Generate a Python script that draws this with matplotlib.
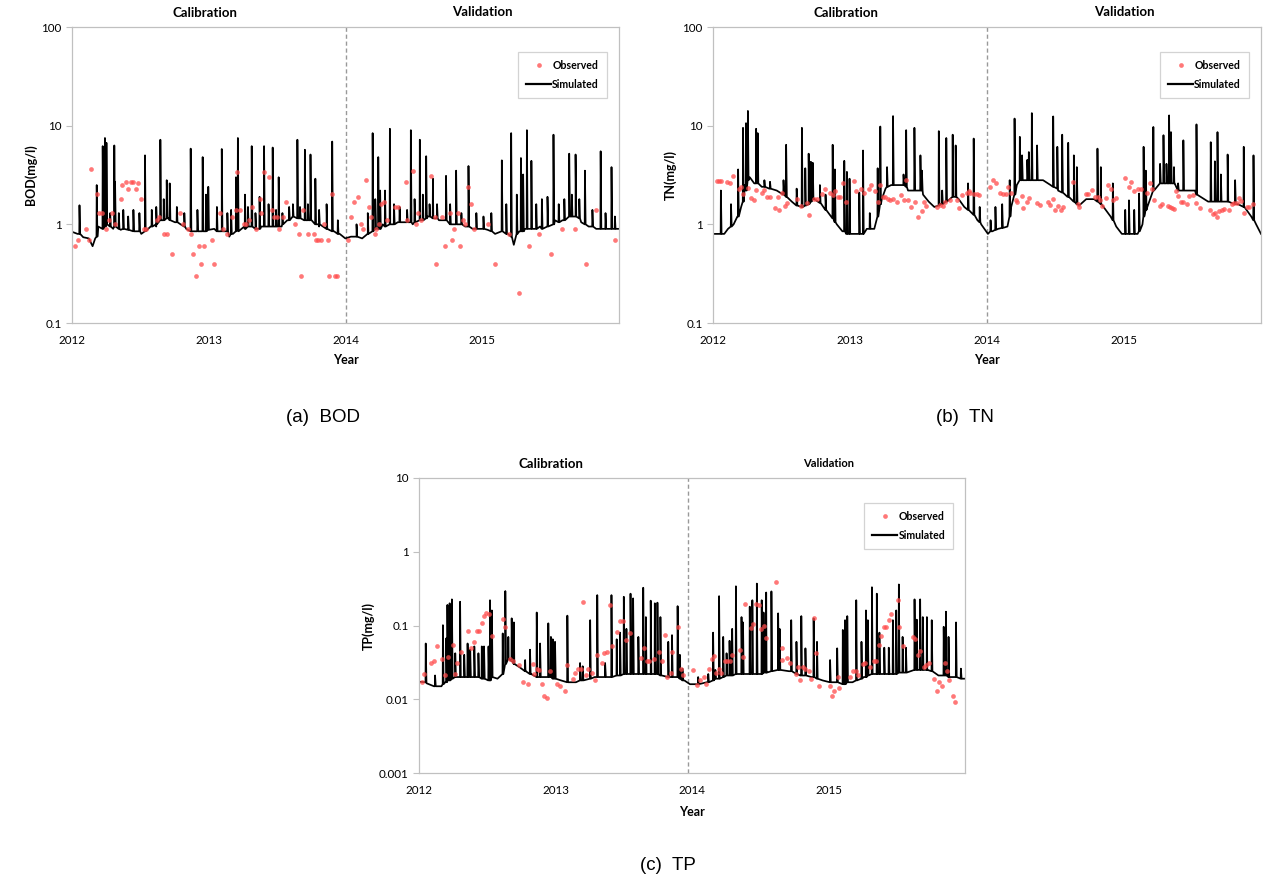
import numpy as np
import pandas as pd
import matplotlib
matplotlib.use("Agg")
import matplotlib.pyplot as plt
import matplotlib.ticker as mticker
import matplotlib.transforms as mtrans
from matplotlib.lines import Line2D

plt.rcParams['font.family'] = ['Lato', 'DejaVu Sans']

START = pd.Timestamp('2012-01-01')

# ---------------- BOD (days since 2012-01-01, mg/l) ----------------
bod_sim_base = [(0, 0.84), (15, 0.8), (30, 0.74), (45, 0.72), (55, 0.6), (62, 0.72), (70, 0.95),
                (90, 0.95), (110, 0.9), (130, 0.88), (150, 0.9), (170, 0.85), (185, 0.8), (195, 0.9),
                (210, 0.95), (225, 0.95), (240, 1.1), (260, 1.15), (275, 1.05), (290, 1.0), (305, 0.9),
                (320, 0.85), (340, 0.85), (360, 0.88), (380, 0.9), (400, 0.9), (420, 0.75), (430, 0.8),
                (445, 0.85), (460, 0.95), (475, 0.95), (490, 0.9), (505, 0.95), (520, 0.95), (540, 0.95),
                (560, 0.95), (575, 1.1), (590, 1.2), (605, 1.15), (620, 1.1), (640, 1.1), (660, 0.95),
                (680, 0.9), (700, 0.85), (715, 0.8), (730, 0.72), (745, 0.75), (760, 0.75), (775, 0.72),
                (790, 0.8), (810, 0.95), (830, 1.0), (850, 1.0), (870, 1.05), (890, 1.05), (910, 1.0),
                (930, 1.1), (950, 1.2), (965, 1.15), (980, 1.1), (995, 1.1), (1010, 1.0), (1030, 1.0),
                (1050, 0.95), (1070, 0.9), (1090, 0.9), (1110, 0.88), (1130, 0.8), (1150, 0.85),
                (1165, 0.8), (1180, 0.62), (1195, 0.85), (1210, 0.9), (1230, 0.9), (1250, 0.95),
                (1270, 1.0), (1290, 1.1), (1310, 1.1), (1330, 1.2), (1345, 1.2), (1360, 1.05),
                (1380, 0.95), (1400, 0.9), (1420, 0.9), (1440, 0.9), (1460, 0.9)]
# spikes: (day, peak, foot)
bod_sim_spikes = [(20, 1.56, 0.8), (66, 2.5, 0.75), (82, 6.2, 0.9), (88, 7.5, 0.95), (92, 6.7, 1.0),
                  (102, 1.3, 0.95), (113, 6.3, 0.95), (115, 2.7, 0.95), (125, 1.3, 0.9), (137, 1.4, 0.9),
                  (150, 1.2, 0.88), (164, 1.4, 0.85), (180, 1.3, 0.85), (195, 5.0, 0.85), (213, 1.4, 0.95),
                  (225, 1.5, 1.0), (236, 7.2, 1.1), (245, 1.8, 1.1), (253, 2.8, 1.15), (261, 2.6, 1.1),
                  (280, 1.5, 1.05), (300, 1.3, 0.95), (317, 5.85, 0.85), (335, 1.4, 0.85), (349, 4.8, 0.85),
                  (358, 2.0, 0.85), (364, 2.4, 0.88), (387, 1.5, 0.85), (400, 5.8, 0.85), (415, 1.3, 0.85),
                  (425, 1.4, 0.8), (438, 3.0, 0.85), (443, 7.5, 0.9), (462, 2.0, 0.9), (470, 1.5, 0.95),
                  (480, 6.2, 0.95), (490, 1.3, 0.9), (501, 1.9, 0.9), (513, 6.2, 0.95), (525, 1.6, 0.95),
                  (536, 6.0, 0.95), (545, 1.4, 0.95), (552, 3.0, 0.95), (562, 1.3, 1.0), (580, 1.5, 1.1),
                  (590, 1.6, 1.2), (602, 7.2, 1.15), (609, 1.5, 1.15), (622, 5.7, 1.1), (630, 1.6, 1.1),
                  (637, 5.1, 1.1), (650, 2.9, 1.0), (660, 1.4, 1.0), (680, 1.6, 0.9), (695, 6.9, 0.85),
                  (710, 1.1, 0.8), (760, 1.0, 0.75), (790, 1.3, 0.8), (803, 8.4, 0.85), (810, 1.8, 0.9),
                  (818, 4.8, 0.9), (823, 2.2, 0.9), (836, 2.2, 0.95), (849, 9.3, 1.0), (860, 1.6, 1.0),
                  (875, 1.5, 1.05), (895, 1.4, 1.05), (905, 9.0, 1.05), (915, 1.8, 1.05), (929, 7.2, 1.1),
                  (937, 2.0, 1.1), (946, 4.9, 1.15), (955, 1.6, 1.2), (964, 2.9, 1.15), (975, 1.6, 1.15),
                  (999, 3.1, 1.1), (1010, 1.6, 1.0), (1026, 3.5, 1.0), (1040, 1.3, 1.0), (1059, 3.9, 0.95),
                  (1080, 1.3, 0.9), (1099, 1.2, 0.9), (1120, 1.3, 0.85), (1148, 4.45, 0.85),
                  (1160, 1.6, 0.8), (1173, 8.4, 0.75), (1188, 2.0, 0.8), (1199, 4.7, 0.85),
                  (1205, 3.2, 0.85), (1215, 9.0, 0.9), (1227, 4.4, 0.9), (1240, 1.6, 0.9), (1255, 1.8, 0.9),
                  (1270, 1.9, 0.95), (1286, 8.1, 1.0), (1300, 1.6, 1.05), (1315, 1.8, 1.1),
                  (1328, 5.2, 1.2), (1335, 2.0, 1.2), (1345, 5.1, 1.2), (1355, 1.8, 1.15),
                  (1370, 3.5, 1.0), (1390, 1.4, 0.95), (1412, 5.5, 0.9), (1425, 1.3, 0.9),
                  (1441, 3.8, 0.9), (1450, 1.2, 0.9)]
bod_obs = [(9, 0.6), (17, 0.7), (37, 0.9), (46, 0.7), (50, 3.6), (66, 2.05), (72, 1.3), (79, 1.3),
           (92, 0.9), (99, 1.1), (108, 1.3), (115, 1.0), (130, 1.8), (134, 2.5), (143, 2.7), (150, 2.3),
           (157, 2.7), (164, 2.7), (170, 2.3), (177, 2.6), (184, 1.8), (192, 0.9), (198, 0.9),
           (228, 1.1), (233, 1.2), (246, 0.8), (253, 0.8), (268, 0.5), (289, 1.3), (297, 1.0),
           (311, 0.9), (317, 0.8), (324, 0.5), (331, 0.3), (339, 0.6), (344, 0.4), (353, 0.6),
           (373, 0.7), (380, 0.4), (394, 1.3), (402, 0.9), (415, 0.8), (428, 1.2), (437, 1.4),
           (441, 3.4), (450, 1.4), (459, 1.0), (466, 1.0), (473, 1.1), (480, 1.5), (491, 0.9),
           (501, 1.8), (505, 1.3), (513, 3.4), (527, 3.0), (533, 1.4), (540, 1.2), (547, 1.2),
           (554, 0.9), (563, 1.2), (571, 1.7), (596, 1.0), (605, 0.8), (611, 0.3), (618, 1.4),
           (631, 0.8), (647, 0.8), (652, 0.7), (658, 0.7), (664, 0.7), (674, 1.0), (683, 0.7),
           (687, 0.3), (694, 2.05), (702, 0.3), (708, 0.3), (738, 0.7), (745, 1.2), (753, 1.7),
           (765, 1.9), (772, 1.0), (778, 0.9), (785, 2.8), (793, 1.5), (799, 1.2), (808, 0.8),
           (813, 0.9), (821, 1.0), (825, 1.6), (834, 1.7), (842, 1.1), (863, 1.5), (870, 1.5),
           (891, 2.7), (896, 1.1), (912, 3.5), (919, 1.0), (924, 1.3), (932, 1.1), (959, 3.1),
           (970, 1.2), (972, 0.4), (987, 1.2), (995, 0.6), (1010, 1.3), (1016, 0.7), (1021, 0.9),
           (1032, 1.3), (1036, 0.6), (1045, 1.1), (1050, 1.0), (1059, 2.4), (1066, 1.6), (1075, 0.9),
           (1112, 1.0), (1129, 0.4), (1168, 0.8), (1193, 0.2), (1221, 0.6), (1248, 0.8), (1280, 0.5),
           (1310, 0.9), (1343, 0.9), (1373, 0.4), (1400, 1.4), (1449, 0.7)]

# ---------------- TN ----------------
tn_sim_base = [(0, 0.8), (18, 0.8), (30, 0.8), (40, 0.9), (55, 1.0), (65, 1.2), (75, 1.5), (85, 2.5),
               (98, 3.0), (110, 2.6), (130, 2.4), (150, 2.3), (170, 2.2), (190, 2.0), (210, 1.7),
               (225, 1.55), (240, 1.5), (255, 1.6), (270, 1.8), (285, 1.65), (300, 1.4), (315, 1.2),
               (330, 1.0), (345, 0.85), (355, 0.8), (400, 0.8), (410, 0.9), (430, 0.9), (440, 1.2),
               (450, 1.8), (460, 2.3), (475, 2.5), (500, 2.5), (520, 2.2), (540, 2.2), (560, 2.0),
               (575, 1.7), (590, 1.5), (605, 1.6), (620, 1.7), (640, 1.9), (655, 1.8), (670, 1.5),
               (690, 1.3), (705, 1.1), (715, 1.0), (733, 0.8), (745, 0.85), (760, 0.9), (785, 0.95),
               (795, 1.5), (810, 2.5), (820, 2.8), (880, 2.8), (900, 2.5), (920, 2.2), (945, 1.9),
               (962, 1.7), (976, 1.55), (995, 1.8), (1016, 1.8), (1035, 1.6), (1060, 1.2), (1075, 0.95),
               (1090, 0.8), (1132, 0.8), (1145, 1.0), (1158, 1.5), (1175, 2.2), (1195, 2.6), (1230, 2.6),
               (1240, 2.2), (1285, 2.2), (1300, 1.9), (1320, 1.7), (1372, 1.7), (1400, 1.6), (1416, 1.5),
               (1435, 1.2), (1448, 1.0), (1461, 0.8)]
tn_sim_spikes = [(21, 2.2, 0.8), (48, 1.6, 0.95), (67, 3.6, 1.2), (80, 9.5, 1.7), (88, 10.6, 2.2),
                 (93, 14.1, 2.8), (115, 9.3, 2.6), (119, 8.4, 2.6), (137, 2.8, 2.4), (152, 2.7, 2.3),
                 (188, 2.8, 2.0), (195, 6.4, 1.9), (223, 2.3, 1.55), (237, 9.5, 1.5), (246, 3.7, 1.55),
                 (255, 5.2, 1.6), (261, 4.3, 1.7), (266, 4.2, 1.8), (285, 2.5, 1.65), (300, 2.0, 1.4),
                 (319, 6.4, 1.15), (325, 3.6, 1.05), (350, 4.4, 0.85), (357, 3.4, 0.8), (364, 2.9, 0.8),
                 (390, 2.1, 0.8), (400, 5.6, 0.8), (418, 1.3, 0.9), (439, 3.7, 1.2), (446, 9.8, 1.6),
                 (464, 3.8, 2.4), (480, 12.5, 2.5), (508, 3.2, 2.5), (515, 9.0, 2.4), (537, 9.5, 2.2),
                 (553, 5.0, 2.2), (557, 3.5, 2.2), (602, 8.8, 1.55), (611, 2.2, 1.6), (622, 7.5, 1.7),
                 (639, 8.1, 1.9), (647, 6.3, 1.9), (680, 2.6, 1.4), (695, 7.4, 1.25), (711, 1.5, 1.05),
                 (740, 1.1, 0.85), (753, 1.5, 0.88), (771, 1.6, 0.92), (791, 2.8, 1.2), (804, 11.8, 2.0),
                 (818, 7.7, 2.8), (824, 5.0, 2.8), (838, 4.5, 2.8), (842, 5.4, 2.8), (850, 13.4, 2.8),
                 (864, 6.3, 2.8), (907, 12.4, 2.4), (918, 6.1, 2.3), (931, 8.1, 2.1), (947, 6.7, 1.9),
                 (962, 5.0, 1.7), (970, 3.8, 1.6), (1025, 5.85, 1.7), (1034, 3.8, 1.6), (1066, 2.6, 1.1),
                 (1099, 1.4, 0.8), (1109, 1.75, 0.8), (1123, 1.4, 0.8), (1136, 2.05, 0.85),
                 (1148, 6.1, 1.2), (1154, 3.5, 1.4), (1174, 9.7, 2.2), (1192, 4.1, 2.6), (1201, 8.0, 2.6),
                 (1209, 4.1, 2.6), (1216, 12.7, 2.6), (1221, 8.6, 2.6), (1229, 3.8, 2.6), (1240, 2.6, 2.2),
                 (1254, 7.1, 2.2), (1289, 10.3, 2.0), (1327, 6.8, 1.7), (1338, 4.35, 1.7),
                 (1345, 8.6, 1.7), (1354, 3.2, 1.7), (1372, 5.1, 1.7), (1392, 2.8, 1.6), (1415, 6.1, 1.5),
                 (1441, 5.0, 1.1)]
tn_obs = [(10, 2.73), (16, 2.73), (21, 2.73), (38, 2.7), (45, 2.6), (52, 3.06), (68, 2.3), (74, 2.4),
          (81, 2.05), (94, 2.35), (101, 1.86), (110, 1.75), (115, 2.25), (130, 2.1), (136, 2.25),
          (143, 1.9), (152, 1.9), (164, 1.45), (172, 1.9), (177, 1.4), (183, 2.1), (192, 1.53),
          (197, 1.66), (223, 1.8), (235, 1.53), (250, 1.65), (255, 1.23), (268, 1.82), (277, 1.82),
          (290, 2.05), (299, 2.3), (312, 2.1), (319, 2.0), (326, 2.2), (332, 1.9), (339, 1.9),
          (346, 2.6), (355, 1.68), (375, 2.73), (382, 2.2), (394, 2.3), (402, 2.1), (415, 2.3),
          (421, 2.5), (431, 2.2), (439, 1.68), (444, 2.5), (452, 1.9), (459, 1.9), (466, 1.82),
          (473, 1.75), (479, 1.82), (491, 1.68), (502, 1.97), (508, 1.78), (515, 2.8), (519, 1.75),
          (529, 1.5), (538, 1.68), (547, 1.19), (556, 1.36), (562, 1.68), (569, 1.53), (596, 1.5),
          (606, 1.56), (613, 1.53), (619, 1.7), (633, 1.78), (651, 1.75), (655, 1.45), (664, 1.97),
          (676, 2.1), (682, 2.2), (686, 2.1), (695, 2.05), (704, 2.05), (709, 2.0), (738, 2.4),
          (746, 2.84), (755, 2.6), (765, 2.07), (773, 2.05), (780, 2.05), (787, 2.4), (795, 2.07),
          (807, 1.75), (811, 1.68), (823, 1.94), (827, 1.47), (836, 1.68), (843, 1.85), (864, 1.66),
          (871, 1.56), (893, 1.68), (898, 1.56), (906, 1.82), (913, 1.39), (920, 1.52), (927, 1.39),
          (933, 1.5), (961, 2.7), (973, 1.6), (976, 1.5), (994, 2.05), (1001, 2.05), (1011, 2.25),
          (1018, 1.9), (1026, 1.9), (1032, 1.75), (1038, 1.53), (1047, 1.86), (1053, 2.5), (1060, 2.3),
          (1067, 1.78), (1075, 1.86), (1099, 2.97), (1109, 2.4), (1114, 2.7), (1123, 2.2), (1132, 2.3),
          (1140, 2.3), (1157, 2.07), (1165, 2.6), (1170, 2.3), (1176, 1.75), (1192, 1.53), (1198, 1.6),
          (1212, 1.53), (1218, 1.5), (1223, 1.47), (1230, 1.42), (1234, 2.16), (1240, 1.92),
          (1247, 1.68), (1254, 1.68), (1265, 1.6), (1270, 1.92), (1280, 2.0), (1287, 1.66),
          (1299, 1.46), (1326, 1.39), (1332, 1.28), (1338, 1.31), (1345, 1.19), (1350, 1.35),
          (1356, 1.39), (1363, 1.44), (1375, 1.4), (1383, 1.6), (1390, 1.65), (1397, 1.65),
          (1403, 1.86), (1408, 1.72), (1415, 1.31), (1423, 1.5), (1430, 1.5), (1439, 1.6)]

# ---------------- TP ----------------
tp_sim_base = [(0, 0.0173), (20, 0.0165), (40, 0.015), (60, 0.015), (70, 0.017), (90, 0.019),
               (110, 0.02), (150, 0.02), (170, 0.019), (190, 0.018), (210, 0.019), (225, 0.022),
               (240, 0.035), (255, 0.03), (270, 0.027), (285, 0.024), (300, 0.022), (320, 0.02),
               (340, 0.02), (360, 0.019), (380, 0.018), (400, 0.017), (420, 0.017), (440, 0.018),
               (470, 0.02), (500, 0.02), (530, 0.021), (560, 0.022), (590, 0.022), (620, 0.022),
               (650, 0.021), (670, 0.02), (690, 0.02), (710, 0.018), (725, 0.016), (745, 0.016),
               (770, 0.017), (800, 0.019), (830, 0.021), (860, 0.022), (900, 0.022), (930, 0.023),
               (960, 0.025), (990, 0.024), (1020, 0.021), (1050, 0.02), (1080, 0.018), (1110, 0.017),
               (1140, 0.016), (1160, 0.017), (1190, 0.02), (1220, 0.022), (1260, 0.022), (1300, 0.023),
               (1330, 0.025), (1360, 0.025), (1390, 0.021), (1420, 0.02), (1459, 0.019)]
tp_sim_spikes = [(18, 0.057, 0.017), (43, 0.021, 0.015), (64, 0.101, 0.016), (73, 0.067, 0.017),
                 (76, 0.19, 0.018), (82, 0.2, 0.018), (88, 0.226, 0.019), (97, 0.042, 0.02),
                 (110, 0.21, 0.02), (121, 0.04, 0.02), (130, 0.057, 0.02), (137, 0.047, 0.02),
                 (148, 0.052, 0.02), (159, 0.042, 0.02), (168, 0.052, 0.019), (174, 0.052, 0.019),
                 (186, 0.052, 0.018), (190, 0.22, 0.018), (195, 0.16, 0.02), (224, 0.078, 0.022),
                 (231, 0.293, 0.03), (239, 0.07, 0.035), (248, 0.125, 0.033), (254, 0.11, 0.03),
                 (284, 0.034, 0.024), (297, 0.047, 0.022), (315, 0.15, 0.02), (324, 0.057, 0.02),
                 (346, 0.107, 0.02), (353, 0.07, 0.02), (358, 0.065, 0.019), (364, 0.06, 0.019),
                 (397, 0.136, 0.017), (431, 0.031, 0.018), (438, 0.028, 0.018), (458, 0.118, 0.019),
                 (477, 0.258, 0.02), (498, 0.031, 0.02), (515, 0.258, 0.02), (529, 0.065, 0.021),
                 (538, 0.08, 0.021), (548, 0.245, 0.022), (555, 0.09, 0.022), (566, 0.27, 0.022),
                 (573, 0.233, 0.022), (587, 0.07, 0.022), (600, 0.325, 0.022), (607, 0.13, 0.022),
                 (620, 0.217, 0.022), (631, 0.2, 0.022), (638, 0.204, 0.022), (646, 0.13, 0.021),
                 (667, 0.06, 0.02), (677, 0.074, 0.02), (692, 0.183, 0.02), (698, 0.04, 0.019),
                 (705, 0.026, 0.018), (747, 0.02, 0.016), (774, 0.022, 0.017), (787, 0.08, 0.018),
                 (793, 0.025, 0.019), (803, 0.25, 0.019), (814, 0.07, 0.02), (823, 0.042, 0.021),
                 (831, 0.062, 0.021), (838, 0.09, 0.021), (848, 0.34, 0.022), (863, 0.13, 0.022),
                 (867, 0.11, 0.022), (885, 0.18, 0.022), (892, 0.22, 0.022), (904, 0.37, 0.022),
                 (917, 0.22, 0.022), (922, 0.15, 0.023), (929, 0.28, 0.023), (943, 0.29, 0.024),
                 (961, 0.146, 0.025), (965, 0.09, 0.025), (996, 0.118, 0.024), (1010, 0.06, 0.022),
                 (1023, 0.134, 0.021), (1034, 0.049, 0.021), (1056, 0.125, 0.02), (1065, 0.06, 0.019),
                 (1100, 0.034, 0.017), (1119, 0.049, 0.017), (1134, 0.087, 0.016), (1140, 0.118, 0.016),
                 (1146, 0.134, 0.017), (1170, 0.22, 0.018), (1184, 0.06, 0.019), (1196, 0.16, 0.02),
                 (1201, 0.118, 0.021), (1212, 0.33, 0.022), (1225, 0.27, 0.022), (1232, 0.08, 0.022),
                 (1245, 0.05, 0.022), (1257, 0.05, 0.022), (1268, 0.118, 0.022), (1277, 0.16, 0.022),
                 (1284, 0.36, 0.023), (1294, 0.07, 0.023), (1303, 0.05, 0.023), (1326, 0.226, 0.025),
                 (1332, 0.12, 0.025), (1341, 0.226, 0.025), (1348, 0.13, 0.025), (1359, 0.13, 0.025),
                 (1372, 0.118, 0.024), (1404, 0.096, 0.021), (1410, 0.154, 0.021), (1417, 0.07, 0.02),
                 (1437, 0.11, 0.02), (1450, 0.026, 0.019)]
tp_obs = [(8, 0.0173), (14, 0.022), (32, 0.031), (41, 0.033), (48, 0.0527), (61, 0.035), (70, 0.021),
          (77, 0.037), (90, 0.054), (97, 0.022), (103, 0.031), (112, 0.044), (130, 0.084), (139, 0.049),
          (148, 0.06), (155, 0.084), (161, 0.084), (168, 0.107), (174, 0.134), (180, 0.149),
          (186, 0.141), (195, 0.072), (224, 0.121), (230, 0.096), (244, 0.035), (251, 0.033),
          (267, 0.029), (278, 0.017), (291, 0.016), (304, 0.03), (309, 0.022), (315, 0.026),
          (321, 0.025), (328, 0.016), (335, 0.011), (342, 0.0103), (351, 0.024), (368, 0.016),
          (377, 0.015), (391, 0.013), (397, 0.029), (411, 0.019), (417, 0.023), (426, 0.026),
          (433, 0.026), (438, 0.21), (447, 0.021), (453, 0.026), (462, 0.023), (471, 0.018),
          (477, 0.04), (489, 0.031), (496, 0.043), (502, 0.044), (511, 0.19), (517, 0.053),
          (529, 0.082), (539, 0.115), (547, 0.116), (555, 0.064), (564, 0.08), (593, 0.036),
          (603, 0.049), (609, 0.033), (616, 0.033), (628, 0.035), (642, 0.044), (650, 0.033),
          (658, 0.074), (664, 0.02), (673, 0.023), (677, 0.044), (693, 0.096), (700, 0.026),
          (707, 0.021), (733, 0.025), (744, 0.0155), (751, 0.018), (763, 0.02), (769, 0.016),
          (776, 0.026), (783, 0.035), (790, 0.038), (796, 0.023), (803, 0.026), (809, 0.023),
          (818, 0.033), (825, 0.033), (831, 0.033), (838, 0.04), (860, 0.047), (867, 0.037),
          (873, 0.193), (889, 0.093), (894, 0.105), (903, 0.195), (909, 0.19), (916, 0.091),
          (922, 0.1), (929, 0.068), (956, 0.39), (970, 0.049), (971, 0.034), (985, 0.036),
          (992, 0.031), (1008, 0.022), (1014, 0.027), (1020, 0.018), (1027, 0.027), (1034, 0.026),
          (1043, 0.024), (1050, 0.019), (1058, 0.125), (1061, 0.042), (1070, 0.015), (1099, 0.015),
          (1105, 0.011), (1110, 0.013), (1121, 0.02), (1125, 0.014), (1154, 0.02), (1161, 0.024),
          (1170, 0.024), (1176, 0.021), (1188, 0.03), (1194, 0.031), (1208, 0.027), (1217, 0.033),
          (1223, 0.033), (1230, 0.055), (1237, 0.072), (1244, 0.096), (1250, 0.096), (1257, 0.118),
          (1263, 0.141), (1281, 0.22), (1285, 0.094), (1294, 0.052), (1321, 0.07), (1327, 0.065),
          (1334, 0.04), (1341, 0.045), (1350, 0.027), (1357, 0.029), (1366, 0.031), (1379, 0.019),
          (1385, 0.013), (1392, 0.017), (1399, 0.015), (1408, 0.031), (1413, 0.024), (1419, 0.018),
          (1428, 0.011), (1435, 0.0091)]


def to_dates(days):
    return START + pd.to_timedelta(np.asarray(days, dtype=float), unit='D')


def sim_line(base, spikes):
    pts = list(base)
    for d, p, f in spikes:
        pts += [(d - 0.6, f), (d, p), (d + 1.8, f)]
    pts.sort(key=lambda t: t[0])
    days, vals = zip(*pts)
    return to_dates(days), np.array(vals)


fig = plt.figure(figsize=(12.85, 8.85), dpi=100)

panels = [
    dict(rect=[72 / 1285, 1 - 323 / 885, 547 / 1285, 296 / 885], ylim=(0.1, 100), ylabel='BOD(mg/l)',
         base=bod_sim_base, spikes=bod_sim_spikes, obs=bod_obs, vline='2014-01-01',
         ylab_x=-0.064, xlab_y=-0.106, vsize=9.5),
    dict(rect=[713 / 1285, 1 - 323 / 885, 548 / 1285, 296 / 885], ylim=(0.1, 100), ylabel='TN(mg/l)',
         base=tn_sim_base, spikes=tn_sim_spikes, obs=tn_obs, vline='2014-01-01',
         ylab_x=-0.066, xlab_y=-0.106, vsize=9.5),
    dict(rect=[419 / 1285, 1 - 773 / 885, 546 / 1285, 295 / 885], ylim=(0.001, 10), ylabel='TP(mg/l)',
         base=tp_sim_base, spikes=tp_sim_spikes, obs=tp_obs, vline='2013-12-22',
         ylab_x=-0.08, xlab_y=-0.113, vsize=8.0),
]

grey = '#c0c0c0'
obs_color = '#ff4b4b'
for p in panels:
    ax = fig.add_axes(p['rect'])
    sd, sv = sim_line(p['base'], p['spikes'])
    ax.plot(sd, sv, color='black', lw=1.25, zorder=2)
    od, ov = zip(*p['obs'])
    ax.plot(to_dates(od), ov, 'o', color=obs_color, alpha=0.75, markersize=3.4,
            markeredgewidth=0, zorder=3)
    ax.set_yscale('log')
    ax.set_ylim(*p['ylim'])
    ax.set_xlim(pd.Timestamp('2012-01-01'), pd.Timestamp('2016-01-01'))
    ax.set_xticks([pd.Timestamp(f'{y}-01-01') for y in range(2012, 2016)])
    ax.set_xticklabels([str(y) for y in range(2012, 2016)])
    ax.yaxis.set_major_formatter(mticker.FuncFormatter(lambda v, _: f'{v:g}'))
    ax.yaxis.set_minor_locator(mticker.NullLocator())
    ax.tick_params(axis='both', labelsize=8.4, length=4, width=0.8, color=grey)
    ax.tick_params(axis='x', length=0, pad=9)
    for s in ax.spines.values():
        s.set_color(grey)
        s.set_linewidth(0.9)
    ax.set_ylabel(p['ylabel'], fontsize=9, fontweight='bold')
    ax.yaxis.set_label_coords(p['ylab_x'], 0.5)
    ax.set_xlabel('Year', fontsize=9, fontweight='bold')
    ax.xaxis.set_label_coords(0.5, p['xlab_y'])
    ax.axvline(pd.Timestamp(p['vline']), color='#999999', lw=1.0, ls=(0, (3, 2)), zorder=1)
    tr = mtrans.blended_transform_factory(ax.transData, ax.transAxes)
    ax.text(pd.Timestamp('2012-12-20'), 1.046, 'Calibration', transform=tr, ha='center',
            va='center', fontsize=9.5, fontweight='bold')
    ax.text(pd.Timestamp('2015-01-01'), 1.05, 'Validation', transform=tr, ha='center',
            va='center', fontsize=p['vsize'], fontweight='bold')
    handles = [Line2D([], [], ls='none', marker='o', color=obs_color, alpha=0.75, markersize=3.4,
                      markeredgewidth=0),
               Line2D([], [], color='black', lw=1.6)]
    leg = ax.legend(handles, ['Observed', 'Simulated'], loc='upper right',
                    bbox_to_anchor=(0.978, 0.915), fontsize=7.6, frameon=True, fancybox=False,
                    edgecolor='#c8c8c8', handlelength=2.4, handletextpad=0.1, borderpad=0.75,
                    labelspacing=0.75, borderaxespad=0)
    leg.get_frame().set_linewidth(0.9)
    for t in leg.get_texts():
        t.set_fontweight('bold')

cap = dict(fontsize=13.5, ha='center', va='center', family=['Liberation Sans', 'DejaVu Sans'])
fig.text(323 / 1285, 1 - 418 / 885, '(a)  BOD', **cap)
fig.text(965 / 1285, 1 - 418 / 885, '(b)  TN', **cap)
fig.text(668 / 1285, 1 - 866 / 885, '(c)  TP', **cap)

fig.savefig('out.png', dpi=100, facecolor='white')
